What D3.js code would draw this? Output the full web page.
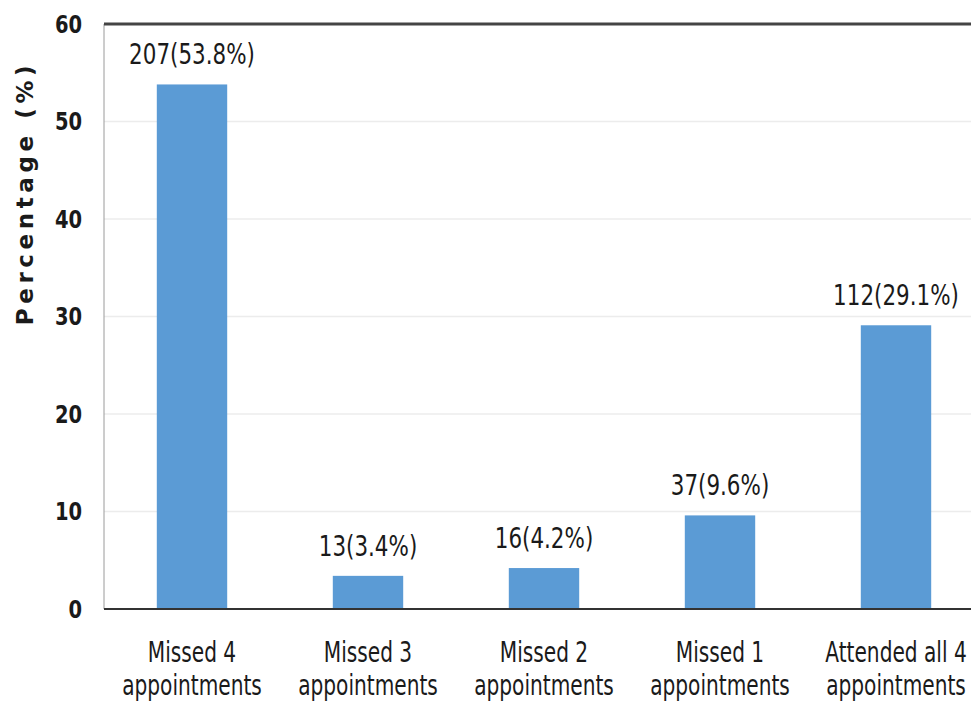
<!DOCTYPE html>
<html>
<head>
<meta charset="utf-8">
<script src="https://cdn.jsdelivr.net/npm/d3@7"></script>
<style>
  body { margin: 0; background: #fff; }
  svg text { fill: #1a1a1a; font-family: 'DejaVu Sans', sans-serif; }
</style>
</head>
<body>
<div id="chart"></div>
<script>
// data
let categories = [
    ['Missed 4', 'appointments'],
    ['Missed 3', 'appointments'],
    ['Missed 2', 'appointments'],
    ['Missed 1', 'appointments'],
    ['Attended all 4', 'appointments']
];
let counts   = [207, 13, 16, 37, 112];
let percents = [53.8, 3.4, 4.2, 9.6, 29.1];
let yTicks   = [0, 10, 20, 30, 40, 50, 60];

let chart_width  = 971;
let chart_height = 705;
let plotLeft = 104, plotTop = 24, plotBottom = 609;
// no condensed face installed, so squeeze text horizontally
let squeeze = 0.78;

let data = categories.map(function(c, i) {
    return { key: c.join(' '), lines: c, count: counts[i], pct: percents[i] };
});

let svg = d3.select('#chart')
    .append('svg')
    .attr('width', chart_width)
    .attr('height', chart_height);

let xScale = d3.scaleBand()
    .domain(data.map(d => d.key))
    .range([plotLeft, plotLeft + 176 * 5])
    .paddingInner(0.6)
    .paddingOuter(0.3);

let yScale = d3.scaleLinear()
    .domain([0, 60])
    .range([plotBottom, plotTop]);

let cx = d => xScale(d.key) + xScale.bandwidth() / 2;

// gridlines
svg.selectAll('line.grid')
    .data(yTicks.slice(1, -1))
    .enter()
    .append('line')
    .attr('class', 'grid')
    .attr('x1', plotLeft)
    .attr('x2', chart_width)
    .attr('y1', d => yScale(d))
    .attr('y2', d => yScale(d))
    .attr('stroke', '#ececec')
    .attr('stroke-width', 1.5);

// frame: thin left, heavy top
svg.append('line')
    .attr('x1', plotLeft).attr('x2', plotLeft)
    .attr('y1', plotTop).attr('y2', plotBottom)
    .attr('stroke', '#9a9a9a').attr('stroke-width', 1);
svg.append('line')
    .attr('x1', plotLeft).attr('x2', chart_width)
    .attr('y1', plotTop).attr('y2', plotTop)
    .attr('stroke', '#444').attr('stroke-width', 3);

// bars
svg.selectAll('rect.bar')
    .data(data)
    .enter()
    .append('rect')
    .attr('class', 'bar')
    .attr('x', d => xScale(d.key))
    .attr('y', d => yScale(d.pct))
    .attr('width', xScale.bandwidth())
    .attr('height', d => yScale(0) - yScale(d.pct))
    .attr('fill', '#5b9bd5');

// baseline
svg.append('line')
    .attr('x1', plotLeft).attr('x2', chart_width)
    .attr('y1', plotBottom).attr('y2', plotBottom)
    .attr('stroke', '#333').attr('stroke-width', 2);

// y axis
let yAxis = d3.axisLeft(yScale)
    .tickValues(yTicks)
    .tickSize(0)
    .tickPadding(22 / squeeze);

svg.append('g')
    .attr('transform', 'translate(' + plotLeft + ',0)')
    .call(yAxis)
    .call(g => g.select('.domain').remove())
    .selectAll('text')
    .attr('font-family', null)
    .attr('font-weight', 'bold')
    .attr('font-size', 25)
    .attr('transform', 'scale(' + squeeze + ',1)')
    .attr('fill', '#1a1a1a');

svg.append('text')
    .attr('transform', 'translate(33,193) rotate(-90)')
    .attr('text-anchor', 'middle')
    .attr('font-weight', 'bold')
    .attr('font-size', 23)
    .attr('letter-spacing', 4.6)
    .text('Percentage (%)');

// value labels
svg.selectAll('text.val')
    .data(data)
    .enter()
    .append('text')
    .attr('class', 'val')
    .attr('transform', d => 'translate(' + cx(d) + ',' + (yScale(d.pct) - 20) + ') scale(0.74,1)')
    .attr('text-anchor', 'middle')
    .attr('font-size', 29)
    .text(d => d.count + '(' + d.pct.toFixed(1) + '%)');

// category labels
let cat = svg.selectAll('text.cat')
    .data(data)
    .enter()
    .append('text')
    .attr('class', 'cat')
    .attr('transform', d => 'translate(' + cx(d) + ',0) scale(0.72,1)')
    .attr('text-anchor', 'middle')
    .attr('font-size', 28);

cat.selectAll('tspan')
    .data(d => d.lines)
    .enter()
    .append('tspan')
    .attr('x', 0)
    .attr('y', (d, i) => 662 + i * 33)
    .text(d => d);
</script>
</body>
</html>
